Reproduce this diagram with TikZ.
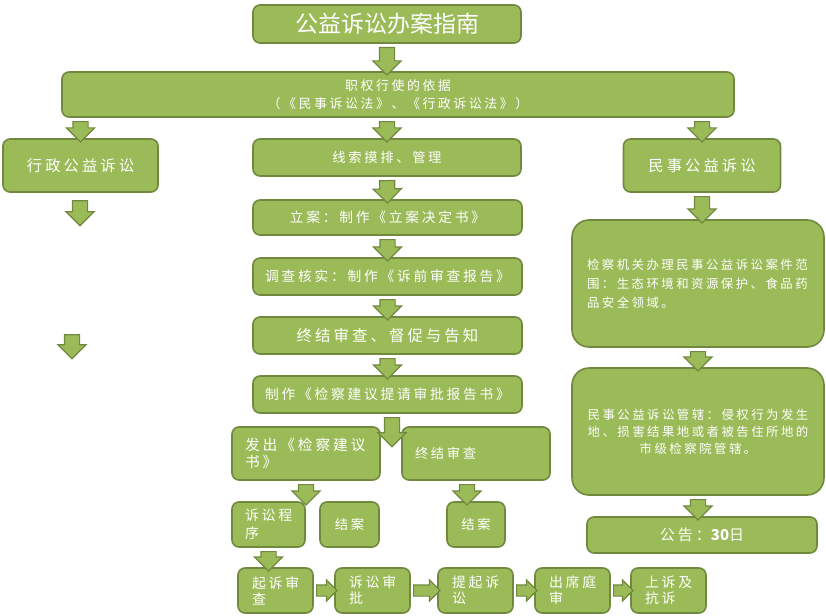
\documentclass[tikz,border=0pt]{standalone}
\usepackage{fontspec}
\setmainfont{Noto Sans CJK SC}
\newfontfamily\spacedcjk[LetterSpace=20]{Noto Sans CJK SC}
\usetikzlibrary{shapes.arrows,calc}
\definecolor{boxfill}{HTML}{9BBB59}
\definecolor{boxline}{HTML}{71893F}
\newcommand{\fs}[2]{\fontsize{#1}{#2}\spacedcjk}
% block arrow between two points
\newcommand{\flow}[3][arr]{%
  \path let \p1=(#2), \p2=(#3), \n1={atan2(\y2-\y1,\x2-\x1)}, \n2={veclen(\x2-\x1,\y2-\y1)} in
    node[#1, minimum height=\n2, rotate=\n1] at ($(\p1)!0.5!(\p2)$) {};}

\begin{document}
\begin{tikzpicture}[x=1pt, y=-1pt,
    box/.style={draw=boxline, fill=boxfill, line width=1.6pt, rounded corners=7pt, text=white, align=center, inner sep=0pt},
    arr/.style={single arrow, draw=boxline, fill=boxfill, line width=1.2pt, inner xsep=0pt, inner ysep=7pt, single arrow head extend=6.5pt, single arrow head indent=0pt},
    smallarr/.style={arr, inner ysep=5pt, single arrow head extend=5pt}]
    \useasboundingbox (0,0) rectangle (826,615);
    % main column
    \node[box, minimum width=268, minimum height=38, font=\fontsize{23}{26}\selectfont] (title) at (387,24) {公益诉讼办案指南};
    \node[box, minimum width=672, minimum height=45, font=\fs{12.9}{18}] (basis) at (398,94.5) {职权行使的依据\\（《民事诉讼法》、《行政诉讼法》）};
    \node[box, minimum width=155, minimum height=53, font=\fs{15.3}{18}] (xz) at (80.5,165.5) {行政公益诉讼};
    \node[box, minimum width=268, minimum height=37, font=\fs{13.3}{16}] (clue) at (387,157.5) {线索摸排、管理};
    \node[box, minimum width=157, minimum height=53, font=\fs{15.3}{18}] (ms) at (702,165.5) {民事公益诉讼};
    \node[box, minimum width=269, minimum height=35, font=\fs{13.75}{16}] (file) at (387.5,217.5) {立案：制作《立案决定书》};
    \node[box, minimum width=269, minimum height=37, font=\fs{13.75}{16}] (inv) at (387.5,276.5) {调查核实：制作《诉前审查报告》};
    \node[box, minimum width=269, minimum height=37, font=\fs{15.4}{18}] (conc) at (387.5,335.5) {终结审查、督促与告知};
    \node[box, minimum width=269, minimum height=37, font=\fs{13.75}{16}] (approve) at (387.5,394.5) {制作《检察建议提请审批报告书》};
    \node[box, minimum width=148, minimum height=53, text width=122, inner xsep=13, align=left, font=\fs{14.7}{17}] (issue) at (306,453.5) {发出《检察建议\\书》};
    \node[box, minimum width=148, minimum height=53, text width=122, inner xsep=13, align=left, font=\fs{13.3}{16}] (endrev) at (476,453.5) {终结审查};
    \node[box, minimum width=73, minimum height=45, text width=47, inner xsep=13, align=left, font=\fs{13.9}{18}] (lit) at (268.5,524.5) {诉讼程\\序};
    \node[box, minimum width=59, minimum height=45, font=\fs{13.3}{16}] (close1) at (349.5,524.5) {结案};
    \node[box, minimum width=58, minimum height=45, font=\fs{13.3}{16}] (close2) at (476,524.5) {结案};
    % bottom row
    \foreach \name/\x/\txt in {b1/275.5/起诉审\\查, b2/372.5/诉讼审\\批, b3/475.5/提起诉\\讼, b4/572.5/出席庭\\审, b5/668.5/上诉及\\抗诉}
        \node[box, minimum width=75, minimum height=45, text width=47, inner xsep=14, align=left, font=\fs{13.9}{16}] (\name) at (\x,590.5) {\txt};
    % right column
    \node[box, rounded corners=17pt, minimum width=252, minimum height=127, text width=222, inner xsep=15, align=left, font=\fs{12.4}{19}] (scope) at (698,283.5) {检察机关办理民事公益诉讼案件范\\围：生态环境和资源保护、食品药\\品安全领域。};
    \node[box, rounded corners=17pt, minimum width=252, minimum height=127, font=\fs{12.4}{17}] (juris) at (698,431.5) {民事公益诉讼管辖：侵权行为发生\\地、损害结果地或者被告住所地的\\市级检察院管辖。};
    \node[box, minimum width=230, minimum height=36, font=\fs{15}{18}] (notice) at (702,535) {公告：{\normalfont\bfseries 30}日};
    % free arrows of the left column
    \coordinate (xza) at (80,197);
    \coordinate (xzb) at (80,222);
    \coordinate (xzc) at (72,331);
    \coordinate (xzd) at (72,355);
    \coordinate (fork) at (392,443);
    % arrows
    \flow{title.south}{title.south |- basis.north}
    \flow{basis.south -| xz.north}{xz.north}
    \flow{basis.south -| clue.north}{clue.north}
    \flow{basis.south -| ms.north}{ms.north}
    \flow{xza}{xzb}
    \flow{xzc}{xzd}
    \flow{clue.south}{file.north}
    \flow{file.south}{inv.north}
    \flow{inv.south}{conc.north}
    \flow{conc.south}{approve.north}
    \flow{approve.south -| fork}{fork}
    \flow{issue.south}{issue.south |- lit.north}
    \flow{[xshift=-9pt]endrev.south}{[xshift=-9pt]close2.north}
    \flow{lit.south}{lit.south |- b1.north}
    \foreach \a/\b in {b1/b2, b2/b3, b3/b4, b4/b5}
        {\flow[smallarr]{\a.east}{\b.west}}
    \flow{ms.south}{ms.south |- scope.north}
    \flow{scope.south}{juris.north}
    \flow{juris.south}{juris.south |- notice.north}
\end{tikzpicture}
\end{document}
